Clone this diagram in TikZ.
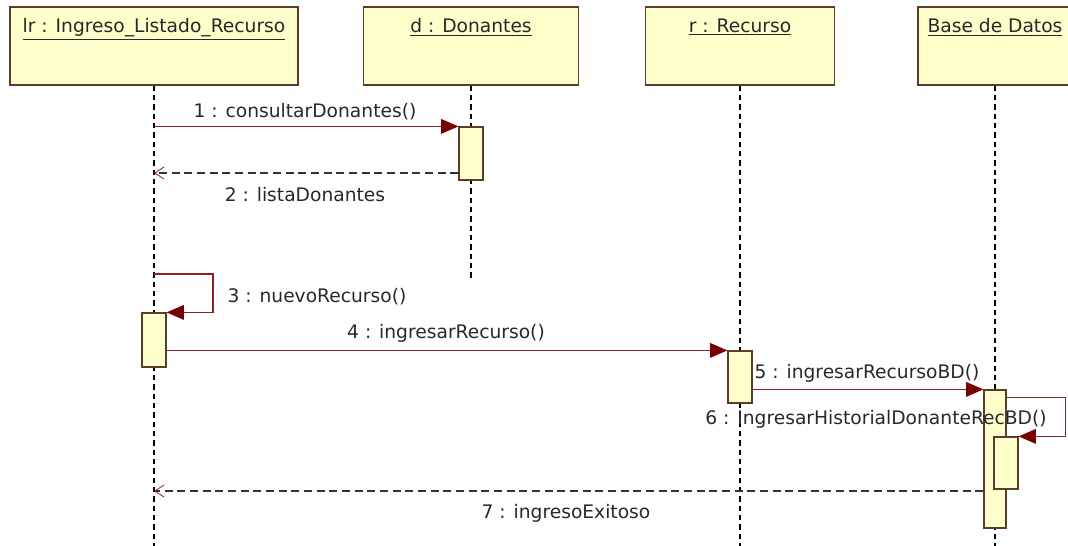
\documentclass[tikz,border=0pt]{standalone}
\usepackage{fontspec}
\setmainfont{DejaVu Sans}
\usetikzlibrary{positioning, arrows.meta, calc}
\definecolor{headfill}{RGB}{255,255,204}
\definecolor{headline}{RGB}{90,60,40}
\definecolor{msgred}{RGB}{140,35,35}
\definecolor{tipred}{RGB}{120,0,0}
\definecolor{txtgray}{RGB}{40,40,40}

\tikzset{
  head/.style={draw=headline, fill=headfill, line width=1pt, minimum height=58.5pt, inner sep=0pt},
  act/.style={draw=headline, fill=headfill, line width=0.9pt, minimum width=18pt, inner sep=0pt},
  life/.style={draw=black, line width=0.9pt, dash pattern=on 4pt off 3pt},
  call/.style={draw=msgred, line width=1pt, -{Triangle[length=13pt,width=11pt,color=tipred]}},
  reply/.style={draw=black!80, line width=0.8pt, dash pattern=on 6pt off 3.5pt, -{Straight Barb[length=7pt,width=9pt,color=msgred,line width=0.6pt]}},
  msglbl/.style={text=txtgray, font=\fontsize{14}{16}\selectfont, inner sep=1pt},
}

\begin{document}
\begin{tikzpicture}[x=0.75pt, y=-0.75pt]
\useasboundingbox (0,0) rectangle (1068,546);

% Heads
\node[head, minimum width=216pt, label={[msglbl, anchor=north, yshift=-8pt]north:\underline{lr : Ingreso\_Listado\_Recurso}}] (lr) at (154,46) {};
\node[head, minimum width=161.25pt, label={[msglbl, anchor=north, yshift=-8pt]north:\underline{d : Donantes}}] (d) at (471,46) {};
\node[head, minimum width=141.75pt, label={[msglbl, anchor=north, yshift=-8pt]north:\underline{r : Recurso}}] (r) at (740,46) {};
\node[head, minimum width=115.5pt, label={[msglbl, anchor=north, yshift=-8pt]north:\underline{Base de Datos}}] (bd) at (995,46) {};

% Lifelines
\draw[life] (lr.south) -- (lr.south |- 0,546);
\draw[life] (d.south) -- (d.south |- 0,280);
\draw[life] (r.south) -- (r.south |- 0,546);
\draw[life] (bd.south) -- (bd.south |- 0,546);

% Activations
\node[act, minimum height=39.75pt] (actd) at (d.south |- 0,153.5) {};
\node[act, minimum height=40.5pt] (actlr) at (lr.south |- 0,340) {};
\node[act, minimum height=39pt] (actr) at (r.south |- 0,377) {};
\node[act, minimum width=16.5pt, minimum height=103.5pt] (actbd) at (bd.south |- 0,459) {};
\node[act, minimum height=39pt] (actbdx) at (1006,463) {};

% Messages
\coordinate (c1) at (lr.south |- actd.north);
\draw[call] (c1) -- (actd.north west);
\node[msglbl] (m1) at (305,112) {1 : consultarDonantes()};

\coordinate (c2) at (lr.south |- 0,173);
\draw[reply] (actd.west |- c2) -- (c2);
\node[msglbl] (m2) at (305,195) {2 : listaDonantes};

\coordinate (c3) at (lr.south |- 0,274);
\draw[call] (c3) -- ++(59,0) |- (actlr.north east);
\node[msglbl, anchor=west] (m3) at (226,297) {3 : nuevoRecurso()};

\draw[call] (actlr.east |- actr.north) -- (actr.north west);
\node[msglbl] (m4) at (446,333) {4 : ingresarRecurso()};

\draw[call] (actr.east |- actbd.north) -- (actbd.north west);
\node[msglbl, anchor=west] (m5) at (753,373) {5 : ingresarRecursoBD()};

\coordinate (c6) at ($(actbd.north east)+(0,8)$);
\draw[call] (c6) -- ++(59,0) |- (actbdx.north east);
\node[msglbl] (m6) at (876,419) {6 : IngresarHistorialDonanteRecBD()};

\coordinate (c7) at (lr.south |- 0,491);
\draw[reply] (actbd.west |- c7) -- (c7);
\node[msglbl] (m7) at (566,513) {7 : ingresoExitoso};

\end{tikzpicture}
\end{document}
